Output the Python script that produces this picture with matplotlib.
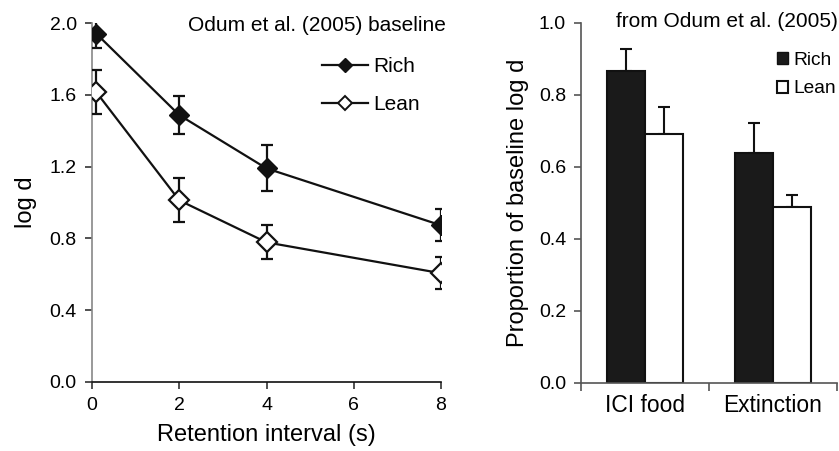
import matplotlib
matplotlib.use('Agg')
import matplotlib.pyplot as plt
from matplotlib.lines import Line2D
from matplotlib.patches import Patch
import numpy as np

plt.rcParams['font.family'] = ['Liberation Sans', 'DejaVu Sans']

# left panel data (Odum et al. 2005 baseline)
ri = [0.1, 2, 4, 8]
rich = [1.94, 1.487, 1.19, 0.873]
rich_err = [0.077, 0.107, 0.128, 0.088]
lean = [1.614, 1.012, 0.778, 0.606]
lean_err = [0.122, 0.122, 0.095, 0.09]

# right panel data
cats = ['ICI food', 'Extinction']
bar_rich = [0.867, 0.637]
bar_rich_err = [0.06, 0.083]
bar_lean = [0.69, 0.487]
bar_lean_err = [0.075, 0.035]

fig = plt.figure(figsize=(8.39, 4.51), dpi=100)
ax1 = fig.add_axes([0.1097, 0.153, 0.4159, 0.796])
ax2 = fig.add_axes([0.6929, 0.1514, 0.3044, 0.7984])

# ---- left
ax1.errorbar(ri, rich, yerr=rich_err, color='#111111', marker='D', ms=10,
             mfc='#111111', mec='#111111', lw=1.6, elinewidth=1.6, capsize=4.5,
             capthick=1.6, zorder=3)
ax1.errorbar(ri, lean, yerr=lean_err, color='#111111', marker='D', ms=10,
             mfc='white', mec='#111111', mew=1.6, lw=1.6, elinewidth=1.6,
             capsize=4.5, capthick=1.6, zorder=3)
ax1.set_xlim(0, 8)
ax1.set_ylim(0, 2.0)
ax1.set_xticks([0, 2, 4, 6, 8])
ax1.set_yticks([0.0, 0.4, 0.8, 1.2, 1.6, 2.0])
ax1.set_yticklabels(['0.0', '0.4', '0.8', '1.2', '1.6', '2.0'])
ax1.spines['top'].set_visible(False)
ax1.spines['right'].set_visible(False)
ax1.spines['left'].set_color('#888888')
ax1.spines['bottom'].set_color('#111111')
ax1.spines['left'].set_linewidth(1.2)
ax1.spines['bottom'].set_linewidth(1.2)
ax1.tick_params(labelsize=14, length=5, width=1.2, color='#333333', pad=6)
ax1.set_xlabel('Retention interval (s)', fontsize=17, labelpad=7)
ax1.set_ylabel('log d', fontsize=17, labelpad=9)
ax1.text(1.015, 0.994, 'Odum et al. (2005) baseline', transform=ax1.transAxes,
         ha='right', va='center', fontsize=15)
h1 = [Line2D([], [], color='#111111', lw=1.6, marker='D', ms=7, mfc='#111111'),
      Line2D([], [], color='#111111', lw=1.6, marker='D', ms=7, mfc='white', mew=1.4)]
ax1.legend(h1, ['Rich', 'Lean'], loc='upper left', bbox_to_anchor=(0.635, 0.928),
           frameon=False, fontsize=15, handlelength=2.2, handletextpad=0.24,
           labelspacing=0.91, borderaxespad=0)

# ---- right
x = np.arange(len(cats)) + 0.5
w = 0.297
ax2.bar(x - w / 2, bar_rich, w, color='#1a1a1a', edgecolor='#111111', lw=1.5,
        zorder=2)
ax2.bar(x + w / 2, bar_lean, w, color='white', edgecolor='#111111', lw=1.5,
        zorder=2)
ax2.errorbar(x - w / 2, bar_rich, yerr=[[0, 0], bar_rich_err], fmt='none',
             ecolor='#111111', elinewidth=1.5, capsize=4.5, capthick=1.5, zorder=1)
ax2.errorbar(x + w / 2, bar_lean, yerr=[[0, 0], bar_lean_err], fmt='none',
             ecolor='#111111', elinewidth=1.5, capsize=4.5, capthick=1.5, zorder=1)
ax2.set_xlim(0, len(cats))
ax2.set_ylim(0, 1.0)
ax2.set_yticks([0.0, 0.2, 0.4, 0.6, 0.8, 1.0])
ax2.set_yticklabels(['0.0', '0.2', '0.4', '0.6', '0.8', '1.0'])
ax2.set_xticks([0, 1, 2])
ax2.set_xticklabels(['', '', ''])
ax2.set_xticks(x, minor=True)
ax2.set_xticklabels(cats, minor=True, fontsize=16.4)
ax2.tick_params(axis='x', which='minor', length=0, pad=8)
ax2.tick_params(axis='x', which='major', length=6, width=1.2, color='#555555')
ax2.tick_params(axis='y', labelsize=14, length=5, width=1.2, color='#555555', pad=6)
ax2.spines['top'].set_visible(False)
ax2.spines['right'].set_visible(False)
ax2.spines['left'].set_color('#555555')
ax2.spines['bottom'].set_color('#555555')
ax2.spines['left'].set_linewidth(1.2)
ax2.spines['bottom'].set_linewidth(1.2)
ax2.set_ylabel('Proportion of baseline log d', fontsize=17, labelpad=7)
ax2.text(1.005, 1.002, 'from Odum et al. (2005)', transform=ax2.transAxes,
         ha='right', va='center', fontsize=15)
h2 = [Patch(facecolor='#1a1a1a', edgecolor='#111111'),
      Patch(facecolor='white', edgecolor='#111111', lw=1.5)]
ax2.legend(h2, ['Rich', 'Lean'], loc='upper left', bbox_to_anchor=(0.735, 0.941),
           frameon=False, fontsize=13.8, handlelength=0.57, handleheight=0.57,
           handletextpad=0.28, labelspacing=0.62, borderaxespad=0)

fig.savefig('out.png', dpi=100)
